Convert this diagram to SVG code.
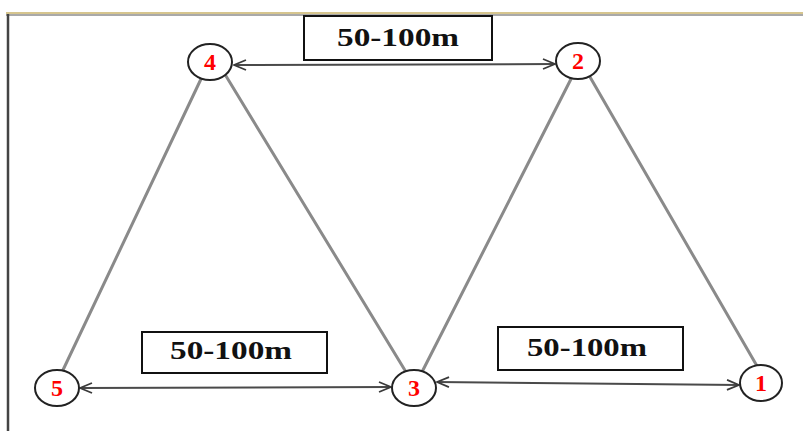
<svg xmlns="http://www.w3.org/2000/svg" width="803" height="431" viewBox="0 0 803 431">
<defs>
<style>
.edge{stroke:#8a8a8a;stroke-width:3;fill:none;stroke-linecap:round}
.dist{stroke:#4a4a4a;stroke-width:2;fill:none}
.node ellipse{fill:#fff;stroke:#222;stroke-width:2}
.node text{font-family:"Liberation Serif",serif;font-weight:bold;font-size:24px;fill:#f00;text-anchor:middle}
.lbl rect{fill:#fff;stroke:#111;stroke-width:2}
.lbl text{font-family:"Liberation Serif",serif;font-weight:bold;font-size:25px;fill:#111;text-anchor:middle}
</style>
<marker id="ah" viewBox="0 0 14 12" refX="13" refY="6" markerWidth="14" markerHeight="12" markerUnits="userSpaceOnUse" orient="auto-start-reverse">
<path d="M1,1 L13,6 L1,11" fill="none" stroke="#3a3a3a" stroke-width="1.8"/>
</marker>
</defs>
<rect x="0" y="0" width="803" height="431" fill="#fff"/>
<g id="frame">
<line x1="6" y1="13" x2="803" y2="13" stroke="#d6c58e" stroke-width="2"/>
<line x1="6" y1="15" x2="803" y2="15" stroke="#8d8d8d" stroke-width="1.5"/>
<line x1="8" y1="14" x2="8" y2="431" stroke="#444" stroke-width="2.5"/>
</g>
<g id="connectors">
<line class="edge" x1="63" y1="370" x2="201" y2="79"/>
<line class="edge" x1="226" y1="76" x2="406" y2="372"/>
<line class="edge" x1="422" y1="372" x2="571" y2="79"/>
<line class="edge" x1="590" y1="77" x2="757" y2="366"/>
<line class="dist" x1="234" y1="65" x2="555" y2="64" marker-start="url(#ah)" marker-end="url(#ah)"/>
<line class="dist" x1="80" y1="388" x2="391" y2="387" marker-start="url(#ah)" marker-end="url(#ah)"/>
<line class="dist" x1="437" y1="382" x2="739" y2="385" marker-start="url(#ah)" marker-end="url(#ah)"/>
</g>
<g id="label-top" class="lbl"><rect x="304" y="16" width="188" height="44"/><text x="398" y="46" textLength="122" lengthAdjust="spacingAndGlyphs">50-100m</text></g>
<g id="label-left" class="lbl"><rect x="142" y="332" width="185" height="41"/><text x="231" y="359" textLength="122" lengthAdjust="spacingAndGlyphs">50-100m</text></g>
<g id="label-right" class="lbl"><rect x="498" y="327" width="185" height="43"/><text x="587" y="356" textLength="120" lengthAdjust="spacingAndGlyphs">50-100m</text></g>
<g id="node4" class="node"><ellipse cx="210" cy="62" rx="22" ry="18"/><text x="210" y="70">4</text></g>
<g id="node2" class="node"><ellipse cx="578" cy="61" rx="22" ry="18"/><text x="578" y="69">2</text></g>
<g id="node5" class="node"><ellipse cx="57" cy="388" rx="22" ry="18"/><text x="57" y="396">5</text></g>
<g id="node3" class="node"><ellipse cx="414" cy="388" rx="22" ry="18"/><text x="414" y="396">3</text></g>
<g id="node1" class="node"><ellipse cx="761" cy="383" rx="21" ry="18"/><text x="761" y="391">1</text></g>
</svg>
